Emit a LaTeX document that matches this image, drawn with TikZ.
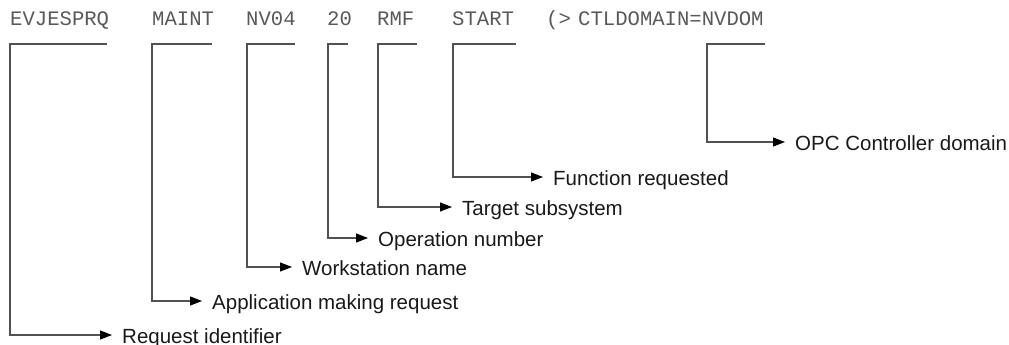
\documentclass[tikz,border=0pt]{standalone}
\usepackage{fontspec}
\setmainfont{Liberation Sans}
\newfontfamily\codefont{Liberation Mono}
\usetikzlibrary{arrows.meta}
\begin{document}
\begin{tikzpicture}[x=1pt,y=-1pt,
  code/.style={anchor=base west,inner sep=0pt,font=\codefont\fontsize{20.6}{24}\selectfont,text=black!65},
  lab/.style={anchor=west,inner sep=0pt,text height=17pt,text depth=0pt,font=\fontsize{20.5}{24}\selectfont,text=black!90},
  conn/.style={draw=black!68,line width=1.1pt,shorten >=10pt,-{Triangle[length=12pt,width=9pt,color=black]}}
]
\useasboundingbox (0,0) rectangle (1009,345);
% command text
\node[code] (w1) at (10,26) {EVJESPRQ};
\node[code] (w2) at (152,26) {MAINT};
\node[code] (w3) at (246,26) {NV04};
\node[code] (w4) at (327,26) {20};
\node[code] (w5) at (377,26) {RMF};
\node[code] (w6) at (452,26) {START};
\node[code] (w7) at (546,26) {(>};
\node[code] (w8) at (578,26) {CTLDOMAIN=NVDOM};
% labels
\node[lab] (l1) at (122,335) {Request identifier};
\node[lab] (l2) at (212,301) {Application making request};
\node[lab] (l3) at (302,267) {Workstation name};
\node[lab] (l4) at (378,238) {Operation number};
\node[lab] (l5) at (462,207) {Target subsystem};
\node[lab] (l6) at (553,177) {Function requested};
\node[lab] (l7) at (795,142) {OPC Controller domain};
% bracket corners
\coordinate (r1) at (107,44); \coordinate (c1) at (10,44);
\coordinate (r2) at (212,44); \coordinate (c2) at (152,44);
\coordinate (r3) at (295,44); \coordinate (c3) at (247,44);
\coordinate (r4) at (348,44); \coordinate (c4) at (328,44);
\coordinate (r5) at (417,44); \coordinate (c5) at (378,44);
\coordinate (r6) at (516,44); \coordinate (c6) at (453,44);
\coordinate (r7) at (765,44); \coordinate (c7) at (707,44);
% connectors
\draw[conn] (r1) -- (c1) |- (l1.west);
\draw[conn] (r2) -- (c2) |- (l2.west);
\draw[conn] (r3) -- (c3) |- (l3.west);
\draw[conn] (r4) -- (c4) |- (l4.west);
\draw[conn] (r5) -- (c5) |- (l5.west);
\draw[conn] (r6) -- (c6) |- (l6.west);
\draw[conn] (r7) -- (c7) |- (l7.west);
\end{tikzpicture}
\end{document}
